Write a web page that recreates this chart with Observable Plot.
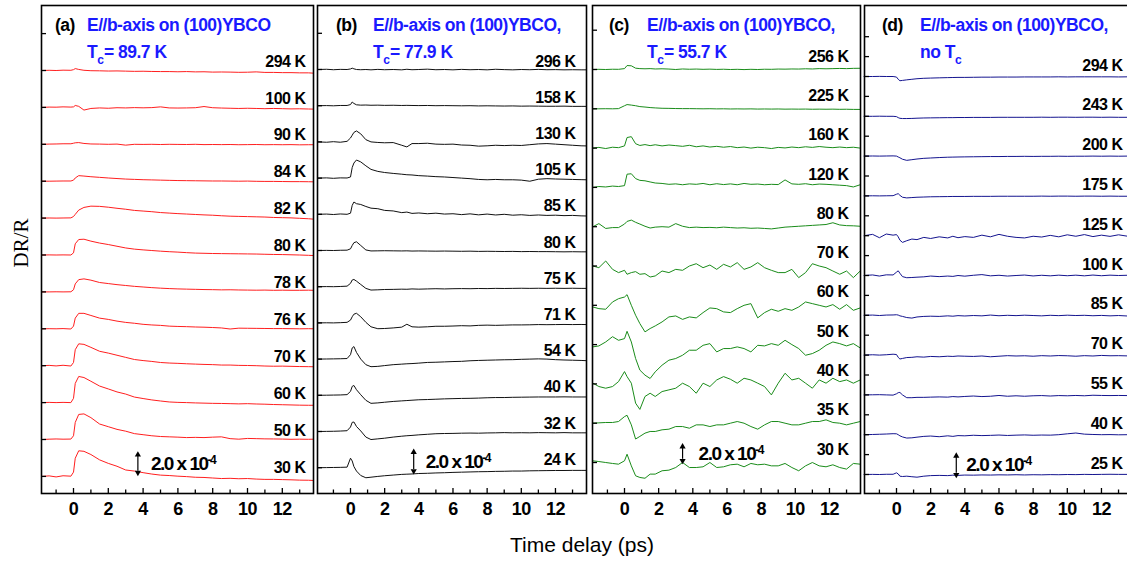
<!DOCTYPE html>
<html><head><meta charset="utf-8">
<script src="https://cdn.jsdelivr.net/npm/d3@7"></script>
<script src="https://cdn.jsdelivr.net/npm/@observablehq/plot@0.6"></script>
<style>
html,body{margin:0;padding:0;background:#fff;}
#chart{position:relative;width:1127px;height:561px;overflow:hidden;font-family:"Liberation Sans",Arial,sans-serif;}
.panel{position:absolute;top:0;}
.panel text{letter-spacing:-0.5px;}
.panel text.scl{letter-spacing:-1.5px;}
.ttl{position:absolute;font-family:"Liberation Sans",Arial,sans-serif;font-weight:bold;font-size:17.5px;line-height:18px;white-space:nowrap;letter-spacing:-0.5px;color:#000;}
.ttl.blue{color:#1a1aff;}
.ttl sub{font-size:12px;vertical-align:-6px;line-height:0;letter-spacing:0;}
.ylab{position:absolute;left:21px;top:243px;transform:translate(-50%,-50%) rotate(-90deg);font-family:"Liberation Serif","Times New Roman",serif;font-size:21px;white-space:nowrap;}
.xlab{position:absolute;left:582px;top:534px;transform:translateX(-50%);font-family:"Liberation Sans",Arial,sans-serif;font-size:21px;line-height:21px;white-space:nowrap;}
</style></head><body><div id="chart"></div>
<script>
// ---------------- data (ΔR/R in units of 1e-4, time in ps) ----------------
const xTickLabels = [0, 2, 4, 6, 8, 10, 12];
const scaleText = "2.0 x 10";
const scaleExp = "-4";

const timesA = [-1.8,-1.4,-1,-0.6,-0.15,0,0.1,0.3,0.6,1,1.5,2,2.5,3,3.5,4,4.5,5,5.5,6,6.5,7,7.5,8,8.5,9,9.5,10,10.5,11,11.5,12,12.5,13,13.5,13.8];
const tempsA = ["294 K","100 K","90 K","84 K","82 K","80 K","78 K","76 K","70 K","60 K","50 K","30 K"];
const valuesA = [
 [0,0.02,0,0.03,0.02,0.08,0.18,0.1,0.02,-0.02,-0.03,-0.05,-0.04,-0.06,-0.08,-0.07,-0.09,-0.1,-0.1,-0.12,-0.1,-0.13,-0.12,-0.15,-0.14,-0.15,-0.17,-0.16,-0.13,-0.18,-0.18,-0.2,-0.2,-0.22,-0.22,-0.25],
 [0,0.03,0.02,0.05,0.03,0.05,0.18,0.1,-0.25,-0.1,-0.05,-0.08,-0.03,-0.05,-0.02,-0.04,-0.02,0.05,-0.05,-0.06,-0.05,-0.03,0.08,-0.03,-0.06,-0.08,-0.1,-0.08,-0.1,-0.12,-0.1,-0.12,-0.14,-0.13,-0.15,-0.16],
 [0,0.02,0.03,0.05,0.05,0.1,0.14,0.16,0.08,0.03,0.02,0,0.02,-0.08,0,-0.01,0,-0.02,0,-0.01,-0.02,0,-0.03,-0.02,-0.03,-0.02,-0.04,-0.03,-0.02,-0.04,-0.03,-0.04,-0.03,-0.05,-0.04,-0.04],
 [0,0,0.01,0.02,0.02,0.1,0.3,0.52,0.48,0.42,0.36,0.3,0.25,0.2,0.17,0.14,0.12,0.1,0.08,0.06,0.05,0.04,0.03,0.02,0.02,0.01,0,0.01,-0.01,-0.02,-0.02,-0.03,-0.04,-0.04,-0.05,-0.06],
 [0,0.01,0,0.01,0.02,0.15,0.35,0.75,1.0,1.12,1.1,1.02,0.92,0.83,0.72,0.66,0.6,0.52,0.47,0.42,0.38,0.34,0.3,0.27,0.22,0.18,0.16,0.14,0.12,0.1,0.06,0.04,0.02,-0.02,-0.06,-0.1],
 [0,0.01,0,0.01,0,0.2,1.05,1.45,1.48,1.3,1.12,0.98,0.82,0.66,0.55,0.48,0.42,0.36,0.31,0.27,0.22,0.18,0.16,0.14,0.13,0.12,0.11,0.1,0.09,0.07,0.05,0.04,0.02,0,-0.03,-0.05],
 [0,0,0.01,0,0.01,0.2,0.75,1.15,1.22,1.1,0.88,0.78,0.68,0.6,0.52,0.46,0.4,0.35,0.31,0.28,0.26,0.24,0.22,0.21,0.19,0.2,0.18,0.17,0.16,0.17,0.15,0.16,0.15,0.15,0.16,0.15],
 [0,0.01,0,0.02,-0.02,0.25,1.0,1.45,1.45,1.25,1.0,0.88,0.72,0.6,0.52,0.42,0.36,0.32,0.25,0.22,0.2,0.17,0.15,0.12,0.08,-0.02,0.06,0.05,0.04,0.03,0.02,0.02,0.01,0,0.01,0],
 [0,0.03,-0.02,0.04,-0.03,0.3,1.5,2.05,2.0,1.72,1.35,1.18,0.98,0.78,0.58,0.48,0.4,0.3,0.25,0.22,0.18,0.15,0.12,0.1,0.06,0.06,0.03,0.02,0,-0.03,-0.05,-0.04,-0.06,-0.08,-0.09,-0.1],
 [0,0.02,0,0.02,0,0.4,1.8,2.45,2.35,2.0,1.55,1.28,1.0,0.8,0.52,0.38,0.25,0.15,0.06,0.02,0,-0.03,-0.05,-0.07,-0.08,-0.1,-0.12,-0.1,-0.13,-0.15,-0.18,-0.2,-0.22,-0.24,-0.25,-0.25],
 [0,0.03,0.05,0.03,0.04,0.35,1.6,2.35,2.4,2.05,1.45,1.2,0.95,0.78,0.55,0.45,0.35,0.28,0.25,0.22,0.18,0.2,0.18,0.22,0.25,0.08,0.03,0.1,0.08,0.06,0.05,0.04,0.02,0.03,0.02,0.03],
 [0,0.05,-0.05,0.06,0.02,0.4,1.7,2.4,2.35,2.05,1.55,1.22,0.95,0.6,0.5,0.35,0.22,0.12,0.08,0.02,-0.02,-0.08,-0.1,-0.15,-0.2,-0.18,-0.22,-0.2,-0.25,-0.28,-0.28,-0.3,-0.32,-0.35,-0.36,-0.38]
];

const timesB = [-1.9,-1.4,-1,-0.6,-0.2,0,0.1,0.2,0.35,0.6,0.9,1.2,1.6,2,2.5,3,3.3,3.6,4,4.5,5,5.5,6,6.5,7,7.5,8,8.5,9,9.5,10,10.5,11,11.5,12,12.5,13,13.5,13.8];
const tempsB = ["296 K","158 K","130 K","105 K","85 K","80 K","75 K","71 K","54 K","40 K","32 K","24 K"];
const valuesB = [
 [0,0.02,-0.02,0.01,0,0.05,0.12,0.06,0,-0.02,0,-0.03,0.01,-0.02,0,-0.03,0.02,-0.02,0,0.03,-0.02,0,-0.03,0.01,-0.02,0,-0.03,0.02,-0.01,-0.03,0,-0.02,0.01,-0.02,-0.01,-0.03,-0.02,-0.03,-0.03],
 [0,0.01,-0.01,0.02,0.02,0.1,0.33,0.2,0.08,0.05,0.06,0.04,0.05,0.03,0.04,0.02,0.03,0.02,0.01,0.02,0,0.01,0,-0.01,0,-0.02,-0.01,-0.02,-0.03,-0.02,-0.04,-0.03,-0.04,-0.05,-0.05,-0.04,-0.06,-0.06,-0.06],
 [0,-0.03,0.02,-0.03,0.05,0.35,0.6,0.85,0.98,0.72,0.2,0,-0.05,-0.08,-0.06,-0.3,-0.45,-0.15,-0.15,-0.12,-0.2,-0.22,-0.2,-0.28,-0.3,-0.38,-0.35,-0.3,-0.33,-0.3,-0.32,-0.25,-0.18,-0.15,-0.2,-0.25,-0.3,-0.35,-0.36],
 [0,0.02,-0.02,0.02,0.01,0.1,0.95,1.35,1.62,1.45,1.1,0.78,0.6,0.5,0.42,0.35,0.3,0.28,0.22,0.18,0.13,0.1,0.05,0,-0.05,-0.12,-0.15,-0.12,-0.15,-0.15,-0.18,-0.28,-0.1,-0.05,-0.08,-0.1,-0.12,-0.14,-0.15],
 [0,0.02,-0.02,0.03,0,0.1,0.8,1.1,0.95,0.88,0.7,0.55,0.5,0.35,0.3,0.15,0.2,0.08,0.12,0.05,0.1,0.02,0.05,-0.03,0.04,-0.05,0.02,-0.06,0,-0.08,-0.04,-0.1,-0.06,-0.1,-0.08,-0.12,-0.1,-0.14,-0.15],
 [0,0.01,0,0.02,0.03,0.15,0.45,0.7,0.78,0.45,0.05,-0.04,-0.03,-0.02,-0.03,-0.04,-0.03,-0.05,-0.04,-0.05,-0.06,-0.05,-0.06,-0.07,-0.06,-0.08,-0.07,-0.08,-0.09,-0.08,-0.1,-0.09,-0.1,-0.1,-0.11,-0.12,-0.11,-0.12,-0.12],
 [0,0.01,0,0.02,0.05,0.3,0.6,0.65,0.5,0.2,-0.15,-0.3,-0.28,-0.25,-0.24,-0.22,-0.23,-0.2,-0.22,-0.2,-0.18,-0.2,-0.18,-0.17,-0.18,-0.16,-0.17,-0.15,-0.16,-0.15,-0.14,-0.15,-0.14,-0.15,-0.14,-0.15,-0.14,-0.15,-0.15],
 [0,0.01,0,0.02,0.05,0.25,0.55,0.78,0.86,0.55,0.05,-0.35,-0.52,-0.5,-0.45,-0.38,-0.12,-0.35,-0.38,-0.35,-0.3,-0.3,-0.28,-0.25,-0.27,-0.22,-0.2,-0.22,-0.2,-0.18,-0.18,-0.17,-0.15,-0.16,-0.15,-0.14,-0.15,-0.14,-0.15],
 [0,0.01,0.02,0.03,0.05,0.4,1.0,1.12,0.6,0,-0.5,-0.68,-0.65,-0.58,-0.5,-0.45,-0.42,-0.4,-0.36,-0.3,-0.28,-0.25,-0.22,-0.2,-0.15,-0.12,-0.1,-0.08,-0.06,-0.05,-0.02,0,0.02,0,-0.05,-0.08,-0.1,-0.12,-0.14],
 [0,0.01,0.02,0.03,0.06,0.35,0.8,0.88,0.5,0.05,-0.45,-0.72,-0.68,-0.62,-0.55,-0.5,-0.47,-0.44,-0.4,-0.38,-0.35,-0.32,-0.3,-0.28,-0.27,-0.25,-0.22,-0.2,-0.2,-0.18,-0.17,-0.16,-0.15,-0.15,-0.15,-0.14,-0.15,-0.15,-0.15],
 [0,0.01,0.02,0.04,0.07,0.4,0.82,0.85,0.45,0.05,-0.5,-0.72,-0.66,-0.6,-0.5,-0.42,-0.38,-0.35,-0.3,-0.25,-0.2,-0.18,-0.17,-0.15,-0.14,-0.15,-0.13,-0.12,-0.1,-0.12,-0.11,-0.12,-0.1,-0.11,-0.12,-0.1,-0.12,-0.12,-0.12],
 [0,0.01,0.02,0.03,0.05,0.85,0.6,0.1,-0.3,-0.7,-0.9,-0.85,-0.78,-0.72,-0.66,-0.6,-0.58,-0.56,-0.52,-0.5,-0.47,-0.45,-0.42,-0.4,-0.38,-0.36,-0.35,-0.33,-0.32,-0.3,-0.3,-0.28,-0.27,-0.26,-0.25,-0.25,-0.24,-0.24,-0.24]
];

const timesC = [-1.85,-1.5,-1.1,-0.7,-0.35,0,0.15,0.4,0.65,0.9,1.2,1.5,1.8,2.2,2.6,3.0,3.4,3.8,4.2,4.6,5.0,5.4,5.8,6.2,6.6,7.0,7.4,7.8,8.2,8.6,9.0,9.4,9.8,10.2,10.6,11.0,11.4,11.8,12.2,12.6,13.0,13.4,13.8];
const tempsC = ["256 K","225 K","160 K","120 K","80 K","70 K","60 K","50 K","40 K","35 K","30 K"];
const valuesC = [
 [0,0.02,0,0.03,0.02,0.1,0.45,0.42,0.15,0.1,0.08,0.1,0.06,0.08,0.05,0,0.06,0.03,0.05,0.02,0.04,0.01,0.03,0,0.02,-0.01,0.02,0,0.03,0.02,0.05,0.04,0.06,0.05,0.08,0.06,0.1,0.08,0.1,0.12,0.1,0.13,0.14],
 [0,0,0.01,0,0.02,0.35,0.48,0.42,0.35,0.25,0.2,0.14,0.1,0.06,0.05,0.03,0.02,0.02,0.01,0,0.01,-0.01,0,-0.02,-0.01,-0.02,-0.01,-0.03,-0.02,-0.03,-0.02,-0.04,-0.03,-0.04,-0.03,-0.05,-0.04,-0.05,-0.04,-0.06,-0.05,-0.07,-0.07],
 [0,0.08,-0.05,0.1,0.05,0.25,1.2,1.3,0.5,0.3,0.4,0.28,0.38,0.25,0.35,0.28,0.2,0.32,0.15,0.25,0.12,0.2,0.1,0.18,0.05,0.12,0,0.1,0.05,-0.05,0.08,0.02,0.12,0.05,0.15,0.08,0.18,0.1,0.05,0.12,0.05,0.1,0],
 [0,0.1,0.05,0.15,0.1,0.2,1.5,1.55,1.0,0.8,0.75,0.62,0.5,0.45,0.35,0.4,0.3,0.4,0.35,0.45,0.3,0.42,0.32,0.4,0.3,0.45,0.35,0.38,0.3,0.35,0.32,0.85,0.4,0.35,0.42,0.3,0.38,0.35,0.3,0.25,0.2,0.05,0.3],
 [0,0.35,-0.2,-0.1,-0.1,0.3,0.6,0.75,0.5,0.3,0.05,-0.15,-0.05,0,-0.05,0.35,0.05,-0.1,-0.05,-0.1,-0.08,-0.12,-0.05,-0.1,-0.15,-0.12,-0.18,-0.15,-0.2,-0.25,-0.15,-0.05,0,0.05,0.1,0.15,0.2,0.25,0.45,0.2,0.12,0.1,0.05],
 [0,-0.19,0.57,-0.38,-0.75,-0.49,-0.94,-0.75,-0.64,-0.94,-0.87,-1.25,-1.13,-0.57,-0.75,-0.38,-0.49,0,0.26,-0.19,0.11,-0.38,0.19,-0.11,0.38,-0.38,-0.11,0.38,-0.19,-0.49,-0.75,-0.75,-0.38,-1.32,-0.75,0.26,0,-0.19,-0.57,-0.94,-0.57,-1.32,-0.57],
 [-0.19,-0.38,-0.45,0.38,0.75,0.94,1.21,0,-1.13,-2.08,-3.02,-2.64,-2.34,-1.89,-1.32,-1.21,-1.6,-1.32,-1.43,-0.83,-0.3,-0.38,-0.75,-0.83,-0.38,0,0.19,-1.43,-0.83,-0.45,-0.68,-0.38,-0.57,-0.19,0.38,0.19,0,-0.19,0.08,-0.45,0.08,-0.57,-0.3],
 [-0.26,-0.15,0.3,0.9,0.49,0.68,1.51,0.3,-1.58,-2.9,-3.47,-3.85,-3.09,-2.34,-1.77,-1.58,-1.21,-0.64,-0.64,-0.08,0.11,-0.83,-0.45,-0.45,-0.26,-0.45,-0.83,-0.08,-0.15,0.11,-0.08,0.49,0,-0.45,-1.21,-1.02,-0.64,-0.08,0.3,0.11,-0.15,0.11,-0.38],
 [0.08,-0.3,-0.49,-0.3,0.26,1.4,0.83,0.08,-2.19,-2.9,-1.43,-1.06,-1.43,-0.87,-0.68,-0.49,0.08,-0.3,-1.06,0.08,-0.3,0.45,0.83,0.53,0.08,0.64,0.45,0.08,-0.3,-1.25,0.08,1.21,0.45,0.64,0.08,-0.49,0.45,0.08,0.64,0.26,0.45,0.08,0.45],
 [0,0.04,0.08,0.08,0.19,0.75,0.9,-0.19,-1.8,-1.5,-1.13,-0.94,-0.94,-0.75,-0.68,-0.38,-0.38,-0.57,-0.19,-0.19,-0.38,-0.19,-0.19,0,0.19,0,-0.38,-0.68,-0.19,0.19,0.19,0,-0.19,-0.19,0,0.19,0.19,0.38,0.08,0,-0.19,0,0.19],
 [0.19,0.11,0,-0.11,-0.19,0.19,0.94,-0.38,-1.51,-1.7,-1.79,-1.32,-1.32,-0.94,-0.87,-0.57,0,-0.57,-0.57,-0.49,0,-0.57,-0.49,-0.26,-0.19,-0.49,-0.11,-0.26,-0.19,-0.38,-0.38,-0.11,-0.57,-0.94,-0.38,0,-0.38,-0.49,-0.26,-0.57,-0.75,-0.11,-0.19]
];

const timesD = [-1.9,-1.4,-1,-0.6,-0.2,0,0.1,0.2,0.35,0.6,0.9,1.2,1.6,2,2.5,3,3.3,3.6,4,4.5,5,5.5,6,6.5,7,7.5,8,8.5,9,9.5,10,10.5,11,11.5,12,12.5,13,13.5,13.8];
const tempsD = ["294 K","243 K","200 K","175 K","125 K","100 K","85 K","70 K","55 K","40 K","25 K"];
const valuesD = [
 [0,0,0.01,0,0,-0.05,-0.25,-0.38,-0.35,-0.3,-0.25,-0.2,-0.16,-0.14,-0.12,-0.1,-0.09,-0.08,-0.08,-0.07,-0.06,-0.06,-0.05,-0.05,-0.05,-0.04,-0.04,-0.04,-0.04,-0.03,-0.04,-0.03,-0.03,-0.03,-0.03,-0.03,-0.04,-0.03,-0.03],
 [0,0,0.01,0,0,-0.03,-0.12,-0.18,-0.2,-0.2,-0.19,-0.17,-0.15,-0.14,-0.13,-0.12,-0.12,-0.11,-0.11,-0.1,-0.1,-0.1,-0.09,-0.09,-0.09,-0.09,-0.09,-0.08,-0.09,-0.08,-0.08,-0.09,-0.08,-0.08,-0.09,-0.08,-0.09,-0.09,-0.09],
 [0,0.01,0,0.01,0.02,0,-0.08,-0.15,-0.28,-0.38,-0.32,-0.26,-0.2,-0.17,-0.13,-0.1,-0.09,-0.08,-0.07,-0.06,-0.05,-0.04,-0.04,-0.03,-0.03,-0.02,-0.03,-0.02,-0.02,-0.01,-0.02,-0.01,-0.01,0,-0.01,0,-0.01,0,0],
 [0,0.01,0,0.01,0.02,0.15,0.2,0.05,-0.12,-0.18,-0.15,-0.12,-0.1,-0.08,-0.07,-0.06,-0.05,-0.05,-0.05,-0.04,-0.04,-0.04,-0.03,-0.03,-0.03,-0.03,-0.03,-0.02,-0.03,-0.02,-0.02,-0.03,-0.02,-0.02,-0.03,-0.02,-0.03,-0.03,-0.03],
 [0,0.12,-0.18,0.15,0.05,0.1,-0.1,-0.4,-0.6,-0.45,-0.3,-0.35,-0.15,-0.25,-0.1,-0.2,-0.05,-0.18,-0.08,-0.15,0.05,-0.1,0.12,-0.05,-0.15,-0.2,-0.05,-0.12,0.03,-0.1,0.08,-0.05,0.1,-0.08,0.05,-0.06,0.08,-0.04,0.02],
 [0,0.05,-0.05,0.06,0.05,0.3,0.42,0.2,-0.1,-0.2,-0.18,-0.15,-0.12,-0.05,-0.1,-0.05,-0.08,0,-0.06,0.02,0.08,-0.03,0.02,-0.05,0,0.04,-0.04,0.02,-0.03,0.03,-0.02,0.03,-0.03,0.04,-0.02,0.03,0,0.02,0.02],
 [0,0.02,-0.02,0.02,0.03,0.05,0.02,-0.05,-0.1,-0.2,-0.25,-0.15,-0.1,-0.08,-0.1,-0.05,-0.08,-0.03,-0.06,-0.02,-0.05,0.02,-0.04,0,-0.03,0.01,-0.02,-0.05,0,-0.03,0.01,-0.02,0,-0.04,-0.01,-0.05,-0.02,-0.06,-0.03],
 [0,0.03,0,0.03,0.08,0.05,-0.2,-0.35,-0.3,-0.22,-0.2,-0.15,-0.18,-0.12,-0.15,-0.1,-0.12,-0.08,-0.1,-0.12,-0.08,-0.15,-0.1,-0.05,-0.08,-0.06,-0.1,-0.05,-0.08,-0.04,-0.06,-0.1,-0.05,-0.08,-0.03,-0.06,-0.05,-0.07,-0.06],
 [0,0.01,0.02,0,-0.02,0.1,0.2,0.22,0,-0.25,-0.25,-0.22,-0.22,-0.2,-0.18,-0.2,-0.15,-0.18,-0.14,-0.1,-0.15,-0.12,-0.05,-0.12,-0.08,-0.12,-0.08,-0.06,-0.1,-0.06,-0.08,-0.05,-0.08,-0.03,-0.05,-0.06,-0.05,-0.06,-0.06],
 [0,0.02,0.04,0.06,0.09,0.08,0,-0.1,-0.2,-0.3,-0.28,-0.22,-0.15,-0.12,-0.18,-0.1,-0.15,-0.08,-0.1,-0.05,-0.08,-0.06,-0.03,-0.07,-0.04,-0.02,-0.05,-0.03,-0.04,0,0.08,0.15,0.05,0.02,0,0.01,-0.01,0,0],
 [0,0.01,0,0.02,0.02,0.15,0.05,-0.15,-0.18,-0.15,-0.2,-0.24,-0.15,-0.1,-0.08,-0.1,-0.06,-0.08,-0.05,-0.06,-0.04,-0.05,-0.03,-0.04,-0.02,-0.04,-0.02,-0.03,-0.01,-0.02,0,-0.01,0.01,0,0.01,0.02,0.01,0.01,0]
];

const titleLine1 = ["E//b-axis on (100)YBCO", "E//b-axis on (100)YBCO,", "E//b-axis on (100)YBCO,", "E//b-axis on (100)YBCO,"];
const titleLine2 = ["T<sub>c</sub>= 89.7 K", "T<sub>c</sub>= 77.9 K", "T<sub>c</sub>= 55.7 K", "no T<sub>c</sub>"];
const panelTags = ["(a)", "(b)", "(c)", "(d)"];

// ---------------- layout ----------------
const TOP = 5, BOTTOM = 493, H = 561;
const layout = [
  {times: timesA, temps: tempsA, values: valuesA, color: "#ff1f1f", left: 41, right: 313, unit: 10.67, first: 70, spacing: 36.9, x0: 73, pxps: 17.4, labGap: 8, labDy: 9, arrowT: 3.7, arrowLo: 0.19, textDx: 13, halfTicks: false, tagX: 55, titleX: 87},
  {times: timesB, temps: tempsB, values: valuesB, color: "#111111", left: 317, right: 586, unit: 11.17, first: 69, spacing: 36.2, x0: 350, pxps: 17.08, labGap: 11, labDy: 8, arrowT: 3.7, arrowLo: -0.45, textDx: 12, halfTicks: false, tagX: 336, titleX: 373},
  {times: timesC, temps: tempsC, values: valuesC, color: "#1a8c1a", left: 592, right: 860, unit: 8.8, first: 69, spacing: 39.3, x0: 624, pxps: 17.08, labGap: 12, labDy: 13, arrowT: 3.4, arrowLo: 0, textDx: 16, halfTicks: false, tagX: 609, titleX: 647},
  {times: timesD, temps: tempsD, values: valuesD, color: "#14148f", left: 864, right: 1132, unit: 11.17, first: 76, spacing: 39.8, x0: 896, pxps: 17.08, labGap: 10, labDy: 11, arrowT: 3.5, arrowLo: -0.18, textDx: 10, halfTicks: true, tagX: 882, titleX: 920}
];

const chart = document.getElementById("chart");
const M = 3;

layout.forEach((p, pi) => {
  const ymax = (BOTTOM - TOP) / p.unit;
  const off = i => (BOTTOM - (p.first + i * p.spacing)) / p.unit;
  const xdom = [(p.left - p.x0) / p.pxps, (p.right - p.x0) / p.pxps];
  const n = p.values.length;
  const rows = p.values.flatMap((vals, i) => vals.map((v, j) => ({t: p.times[j], y: v + off(i), k: i})));
  const labs = p.temps.map((s, i) => ({s, y: off(i)}));
  const yTicks = [];
  if (p.halfTicks) { for (let h = -2; h <= 2 * (n - 1); h++) yTicks.push((BOTTOM - (p.first + h * p.spacing / 2)) / p.unit); }
  else { for (let i = -1; i < n; i++) yTicks.push(off(i)); }
  const xTicks = d3.range(-1, 14);
  const lastOff = off(n - 1);
  const a1 = lastOff + p.arrowLo, a2 = a1 + 2;
  const head = 3.2 / p.unit;
  const arrowLine = [{t: p.arrowT, y1: a1 + head, y2: a2 - head}];
  const arrowHeads = [{t: p.arrowT, y: a2 - head * 0.55, r: 0}, {t: p.arrowT, y: a1 + head * 0.55, r: 180}];

  const svg = Plot.plot({
    width: (p.right - p.left) + 2 * M,
    height: H,
    marginLeft: M, marginRight: M, marginTop: TOP, marginBottom: H - BOTTOM,
    x: {domain: xdom},
    y: {domain: [0, ymax], axis: null},
    style: {background: "transparent", overflow: "visible", fontFamily: "Liberation Sans, Arial, sans-serif"},
    marks: [
      Plot.line(rows, {x: "t", y: "y", z: "k", stroke: p.color, strokeWidth: 1}),
      Plot.text(labs, {x: () => xdom[1], y: "y", text: "s", textAnchor: "end", dx: -p.labGap, dy: -p.labDy, fontSize: 16, fontWeight: "bold", fill: "black"}),
      Plot.ruleX(xTicks, {x: d => d, y1: 0, y2: d => (d % 2 === 0 ? 5 : 3.5) / p.unit, stroke: "black", strokeWidth: 1.3}),
      Plot.ruleY(yTicks, {y: d => d, x1: xdom[0], x2: xdom[0] + 5 / p.pxps, stroke: "black", strokeWidth: 1.3}),
      Plot.axisX({ticks: xTickLabels, tickSize: 0, tickPadding: 9, fontSize: 18, fontWeight: "bold", label: null, tickFormat: d => String(d)}),
      Plot.ruleX(arrowLine, {x: "t", y1: "y1", y2: "y2", stroke: "black", strokeWidth: 1.2}),
      Plot.dot(arrowHeads, {x: "t", y: "y", rotate: "r", symbol: "triangle", r: 2.3, fill: "black", stroke: "none"}),
      Plot.text(arrowLine, {x: "t", y: d => (a1 + a2) / 2, text: () => scaleText, dx: p.textDx, textAnchor: "start", fontSize: 19, fontWeight: "bold", fill: "black"}),
      Plot.frame({stroke: "black", strokeWidth: 1.6})
    ]
  });
  svg.classList.add("panel");
  svg.style.left = (p.left - M) + "px";
  svg.querySelectorAll("text").forEach(t => {
    if (t.textContent === scaleText) {
      t.classList.add("scl");
      const ts = document.createElementNS("http://www.w3.org/2000/svg", "tspan");
      ts.setAttribute("dy", "-0.5em");
      ts.setAttribute("font-size", "12");
      ts.textContent = scaleExp;
      t.appendChild(ts);
    }
  });
  chart.appendChild(svg);

  const tag = document.createElement("div");
  tag.className = "ttl"; tag.style.left = p.tagX + "px"; tag.style.top = "16px";
  tag.textContent = panelTags[pi];
  chart.appendChild(tag);
  const t1 = document.createElement("div");
  t1.className = "ttl blue"; t1.style.left = p.titleX + "px"; t1.style.top = "16px";
  t1.textContent = titleLine1[pi];
  chart.appendChild(t1);
  const t2 = document.createElement("div");
  t2.className = "ttl blue"; t2.style.left = p.titleX + "px"; t2.style.top = "43px";
  t2.innerHTML = titleLine2[pi];
  chart.appendChild(t2);
});

const yl = document.createElement("div");
yl.className = "ylab"; yl.textContent = "DR/R";
chart.appendChild(yl);
const xl = document.createElement("div");
xl.className = "xlab"; xl.textContent = "Time delay (ps)";
chart.appendChild(xl);
</script></body></html>
